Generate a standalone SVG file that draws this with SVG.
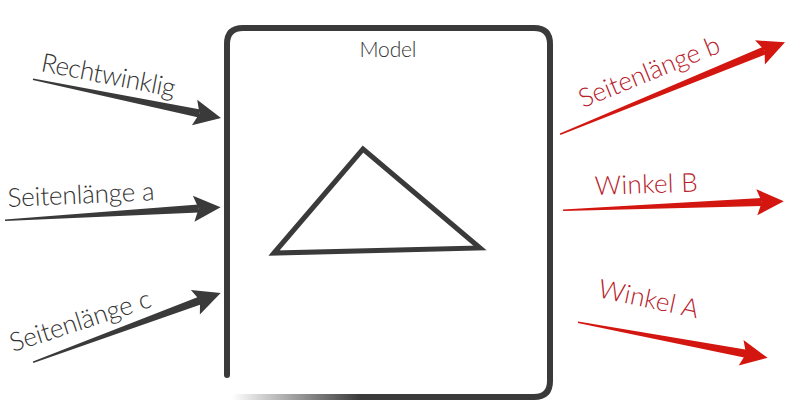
<svg xmlns="http://www.w3.org/2000/svg" width="800" height="419" viewBox="0 0 800 419">
  <style>
    .lbl { font-family: Lato, "Liberation Sans", sans-serif; font-weight: 300; font-size: 26px; }
    .in { fill: #333333; }
    .out { fill: #b8202a; }
    .ain { fill: #3a3a3a; }
    .aout { fill: #d3160f; }
    .frame { fill: none; stroke: #3a3a3a; stroke-width: 6; stroke-linecap: round; }
  </style>
  <defs>
    <path id="head" d="M0,0 L-27,-13 L-22,0 L-27,13 Z"/>
    <linearGradient id="fadeB" gradientUnits="userSpaceOnUse" x1="232" y1="0" x2="360" y2="0">
      <stop offset="0" stop-color="#3a3a3a" stop-opacity="0"/>
      <stop offset="1" stop-color="#3a3a3a" stop-opacity="1"/>
    </linearGradient>
  </defs>

  <g id="model">
    <path class="frame" d="M227,375 L227,44 Q227,28 243,28 L534,28 Q550,28 550,44 L550,381 Q550,397 534,397"/>
    <path d="M232,397 L534,397" fill="none" stroke="url(#fadeB)" stroke-width="6"/>
    <text x="388" y="57" text-anchor="middle" textLength="57" style="font-family: Lato, 'Liberation Sans', sans-serif; font-weight:300; font-size:21px; fill:#333;">Model</text>
    <polygon points="274,253 363,149 480,248" fill="none" stroke="#3a3a3a" stroke-width="5" stroke-linejoin="miter"/>
  </g>

  <g id="connectors">
    <g transform="translate(33,79) rotate(11.7)" class="ain">
      <polygon points="0,-0.5 170,-4 170,4 0,1"/>
      <use href="#head" x="192" y="0"/>
    </g>
    <g transform="translate(5,220) rotate(-3.4)" class="ain">
      <polygon points="0,-0.5 194,-4 194,4 0,1"/>
      <use href="#head" x="216" y="0"/>
    </g>
    <g transform="translate(33,362) rotate(-20.2)" class="ain">
      <polygon points="0,-0.5 178,-4 178,4 0,1"/>
      <use href="#head" x="200" y="0"/>
    </g>
    <g transform="translate(560,134) rotate(-22.2)" class="aout">
      <polygon points="0,-0.5 221,-4 221,4 0,1"/>
      <use href="#head" x="243" y="0"/>
    </g>
    <g transform="translate(563,210) rotate(-2.3)" class="aout">
      <polygon points="0,-0.5 199,-4 199,4 0,1"/>
      <use href="#head" x="221" y="0"/>
    </g>
    <g transform="translate(578,322) rotate(10.7)" class="aout">
      <polygon points="0,-0.5 171,-4 171,4 0,1"/>
      <use href="#head" x="193" y="0"/>
    </g>
  </g>

  <g id="label-rechtwinklig"><text class="lbl in" transform="translate(40,71) rotate(11)" textLength="136">Rechtwinklig</text></g>
  <g id="label-seitenlaenge-a"><text class="lbl in" transform="translate(8,207) rotate(-2.7)" textLength="147">Seitenlänge a</text></g>
  <g id="label-seitenlaenge-c"><text class="lbl in" transform="translate(13,352) rotate(-18)" textLength="147">Seitenlänge c</text></g>
  <g id="label-seitenlaenge-b"><text class="lbl out" transform="translate(583,108) rotate(-22)" textLength="150">Seitenlänge b</text></g>
  <g id="label-winkel-b"><text class="lbl out" transform="translate(595,195) rotate(-2)" textLength="103">Winkel B</text></g>
  <g id="label-winkel-a"><text class="lbl out" transform="translate(597,297) rotate(12)" textLength="102">Winkel A</text></g>
</svg>
